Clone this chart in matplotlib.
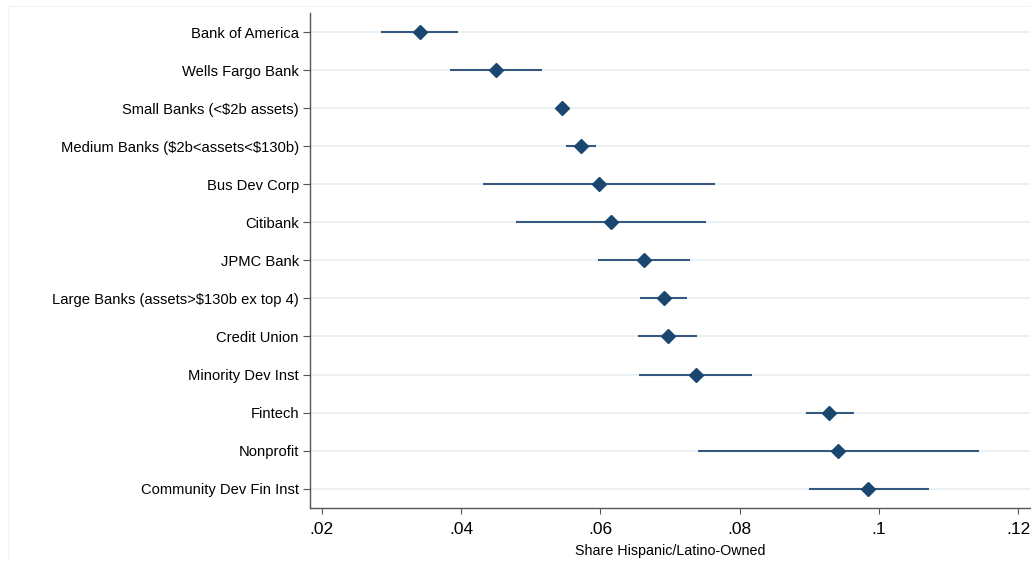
import matplotlib.pyplot as plt
from matplotlib.patches import Rectangle

plt.rcParams['font.family'] = ['Liberation Sans', 'DejaVu Sans']

lenders = ["Bank of America", "Wells Fargo Bank", r"Small Banks (<\$2b assets)",
           r"Medium Banks (\$2b<assets<\$130b)", "Bus Dev Corp", "Citibank", "JPMC Bank",
           r"Large Banks (assets>\$130b ex top 4)", "Credit Union", "Minority Dev Inst",
           "Fintech", "Nonprofit", "Community Dev Fin Inst"]
share = [0.0341, 0.0450, 0.0545, 0.0573, 0.0598, 0.0615, 0.0663,
         0.0691, 0.0697, 0.0737, 0.0929, 0.0942, 0.0985]
ci_lo = [0.0285, 0.0384, 0.0541, 0.0551, 0.0432, 0.0479, 0.0597,
         0.0657, 0.0654, 0.0656, 0.0895, 0.0741, 0.0899]
ci_hi = [0.0396, 0.0517, 0.0549, 0.0594, 0.0764, 0.0752, 0.0729,
         0.0725, 0.0739, 0.0818, 0.0965, 0.1144, 0.1072]

navy = '#1a476f'
ypos = list(range(1, len(lenders) + 1))

fig = plt.figure(figsize=(10.31, 5.62), dpi=100)
# faint Stata-style graph region border
fig.patches.append(Rectangle((8 / 1031, -0.01), 1.02, 1 - 6 / 562 + 0.01,
                             transform=fig.transFigure, fill=False,
                             edgecolor='#f2f5f6', lw=0.8))
ax = fig.add_axes([310 / 1031, 1 - 507.7 / 562, 720 / 1031, (507.7 - 13) / 562])

for y in ypos:
    ax.axhline(y, color='#e9f0f2', lw=1.3, zorder=0)

ax.hlines(ypos, ci_lo, ci_hi, color='#34587f', lw=1.5, zorder=2)
ax.plot(share, ypos, 'D', color=navy, markersize=7, zorder=3, linestyle='none')

ax.set_ylim(13.5, 0.5)
ax.set_xlim(0.01832, 0.1217)
ax.set_yticks(ypos)
ax.set_yticklabels(lenders, fontsize=10.6)
ax.set_xticks([0.02, 0.04, 0.06, 0.08, 0.10, 0.12])
ax.set_xticklabels(['.02', '.04', '.06', '.08', '.1', '.12'], fontsize=12.5)
ax.set_xlabel("Share Hispanic/Latino-Owned", fontsize=10.3, labelpad=5)

for s in ['top', 'right']:
    ax.spines[s].set_visible(False)
for s in ['left', 'bottom']:
    ax.spines[s].set_color('#555555')
    ax.spines[s].set_linewidth(1.0)
ax.tick_params(axis='y', length=5, width=0.8, color='#555555', pad=3)
ax.tick_params(axis='x', length=4, width=0.8, color='#555555', pad=6)

fig.savefig('out.png', dpi=100)
